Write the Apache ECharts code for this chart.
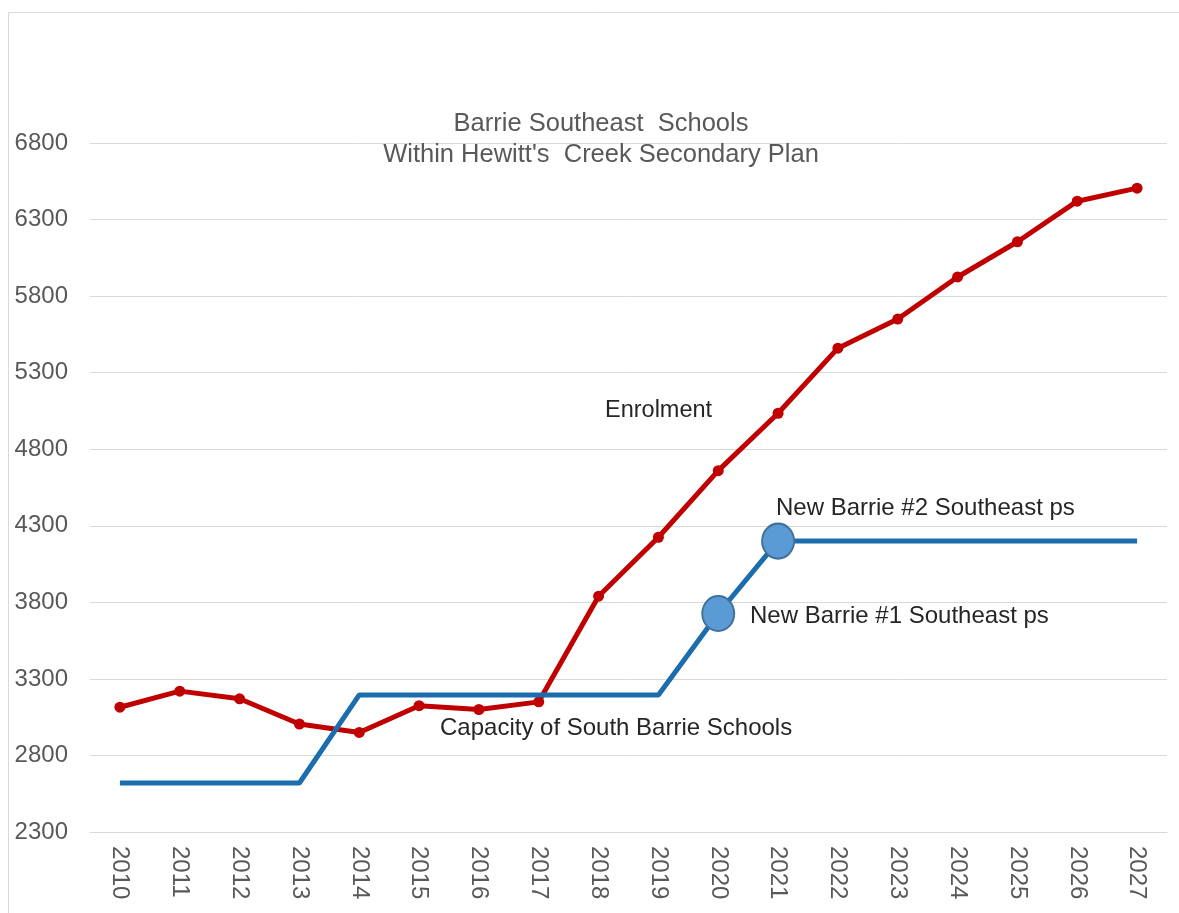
<!DOCTYPE html>
<html>
<head>
<meta charset="utf-8">
<script src="https://cdn.jsdelivr.net/npm/echarts@6/dist/echarts.min.js"></script>
<style>
html,body{margin:0;padding:0;background:#fff;}
#c{width:1179px;height:913px;}
</style>
</head>
<body>
<div id="c"></div>
<script>
const years = ['2010','2011','2012','2013','2014','2015','2016','2017','2018','2019','2020','2021','2022','2023','2024','2025','2026','2027'];
const enrolment = [3115, 3220, 3170, 3005, 2950, 3125, 3100, 3150, 3840, 4225, 4660, 5035, 5460, 5650, 5925, 6155, 6420, 6505];
const capacity = [2620, 2620, 2620, 2620, 3195, 3195, 3195, 3195, 3195, 3195, 3727, 4200, 4200, 4200, 4200, 4200, 4200, 4200];
const newSchoolYears = ['2020', '2021'];
const yTicks = {min: 2300, max: 6800, interval: 500};

const titleLines = ['Barrie Southeast  Schools', "Within Hewitt's  Creek Secondary Plan"];

const chart = echarts.init(document.getElementById('c'), null, {renderer: 'canvas'});

const capData = capacity.map((v, i) => {
  if (newSchoolYears.indexOf(years[i]) >= 0) {
    return {
      value: v,
      symbol: 'circle',
      symbolSize: [32, 35],
      itemStyle: {color: '#5B9BD5', borderColor: '#41719C', borderWidth: 2}
    };
  }
  return {value: v, symbol: 'none'};
});

const font = '"Liberation Sans", Arial, sans-serif';

chart.setOption({
  animation: false,
  backgroundColor: '#fff',
  title: {
    text: titleLines.join('\n'),
    left: 596,
    top: 103,
    textAlign: 'center',
    textStyle: {fontFamily: font, fontSize: 25.5, fontWeight: 'normal', color: '#595959', lineHeight: 31}
  },
  grid: {left: 90, right: 12, top: 143, bottom: 81, containLabel: false},
  xAxis: {
    type: 'category',
    data: years,
    boundaryGap: true,
    axisLine: {show: true, lineStyle: {color: '#d9d9d9', width: 1}},
    axisTick: {show: false},
    axisLabel: {rotate: -90, fontFamily: font, fontSize: 24, color: '#595959', margin: 14}
  },
  yAxis: {
    type: 'value',
    min: yTicks.min,
    max: yTicks.max,
    interval: yTicks.interval,
    axisLine: {show: false},
    axisTick: {show: false},
    splitLine: {lineStyle: {color: '#d9d9d9', width: 1}},
    axisLabel: {fontFamily: font, fontSize: 24, color: '#595959', margin: 22, formatter: v => String(v)}
  },
  series: [
    {
      name: 'Enrolment',
      type: 'line',
      data: enrolment,
      symbol: 'circle',
      symbolSize: 11,
      lineStyle: {color: '#C00000', width: 5},
      itemStyle: {color: '#C00000'},
      z: 2
    },
    {
      name: 'Capacity',
      type: 'line',
      data: capData,
      symbol: 'none',
      showSymbol: true,
      lineStyle: {color: '#1B6DAE', width: 5},
      itemStyle: {color: '#5B9BD5'},
      z: 3
    }
  ],
  graphic: [
    {type: 'rect', shape: {x: 8.5, y: 12.5, width: 1300, height: 1000}, style: {fill: 'none', stroke: '#d9d9d9', lineWidth: 1}, z: 0, silent: true},
    {type: 'text', left: 605, top: 399, style: {text: 'Enrolment', font: '23.5px ' + font, fill: '#262626'}, z: 10},
    {type: 'text', left: 776, top: 496, style: {text: 'New Barrie #2 Southeast ps', font: '24px ' + font, fill: '#262626'}, z: 10},
    {type: 'text', left: 750, top: 604, style: {text: 'New Barrie #1 Southeast ps', font: '24px ' + font, fill: '#262626'}, z: 10},
    {type: 'text', left: 440, top: 716, style: {text: 'Capacity of South Barrie Schools', font: '24px ' + font, fill: '#262626'}, z: 10}
  ]
});
</script>
</body>
</html>
